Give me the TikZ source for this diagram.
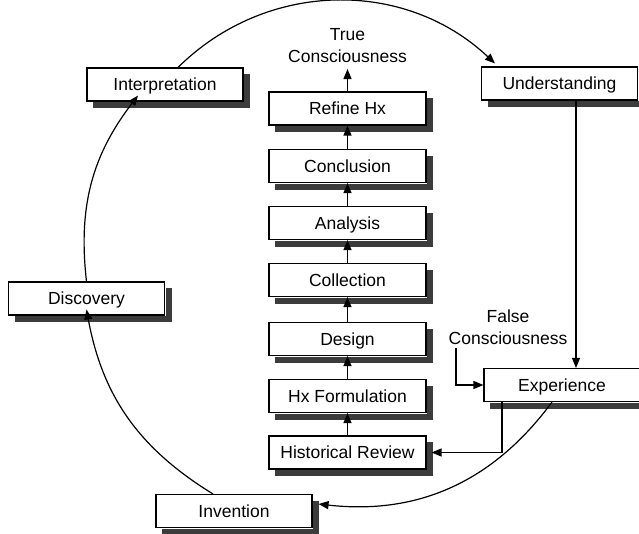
\documentclass[tikz,border=0pt]{standalone}
\usepackage{fontspec}
\setmainfont{Liberation Sans}
\usetikzlibrary{arrows.meta}
\definecolor{shadowgray}{RGB}{60,60,60}
\begin{document}
\begin{tikzpicture}[x=1pt,y=-1pt,
  box/.style={draw, line width=1.1pt, fill=white, minimum width=156pt, minimum height=33pt,
    inner sep=0pt, text height=12.5pt, text depth=0pt, font=\fontsize{17.5}{21}\selectfont},
  colbox/.style={box, minimum width=157pt},
  shadowc/.style={draw=shadowgray, line width=6pt},
  lbl/.style={align=center, font=\fontsize{17.5}{22}\selectfont, inner sep=0pt, anchor=north},
  arr/.style={line width=1.2pt, -{Triangle[length=10pt,width=8pt]}},
]
\useasboundingbox (0,0) rectangle (639,533);

% outer cycle boxes
\node[box] (interp) at (165,84.5) {Interpretation};
\node[box] (und) at (559.5,83.5) {Understanding};
\node[box] (disc) at (86.5,298.5) {Discovery};
\node[box] (inv) at (234,511) {Invention};
\node[box] (exp) at (562,385) {Experience};

% central column
\node[colbox] (refine) at (347.5,108.5) {Refine Hx};
\node[colbox] (concl) at (347.5,166) {Conclusion};
\node[colbox] (anal) at (347.5,223) {Analysis};
\node[colbox] (coll) at (347.5,280) {Collection};
\node[colbox] (design) at (347.5,339) {Design};
\node[colbox] (hxf) at (347.5,396) {Hx Formulation};
\node[colbox] (hist) at (347.5,452.5) {Historical Review};

% shadows: thick strokes along the right and bottom edges
\foreach \n in {interp,und,disc,inv,exp,refine,concl,anal,coll,design,hxf,hist}
  \draw[shadowc] ([shift={(3.5pt,-7pt)}]\n.north east) -- ([shift={(3.5pt,-3.5pt)}]\n.south east)
     -- ([shift={(7pt,-3.5pt)}]\n.south west);

% labels
\node[lbl] (truec) at (347.5,28.3) {True\\Consciousness};
\node[lbl] (falsec) at (508,310) {False\\Consciousness};

% helper coordinates
\coordinate (truetip) at (347.5,69);
\coordinate (fstart) at (456,348);
\coordinate (ux) at (576,0);
\coordinate (ex) at (502,0);

% column arrows
\draw[arr] (hist.north) -- (hxf.south);
\draw[arr] (hxf.north) -- (design.south);
\draw[arr] (design.north) -- (coll.south);
\draw[arr] (coll.north) -- (anal.south);
\draw[arr] (anal.north) -- (concl.south);
\draw[arr] (concl.north) -- (refine.south);
\draw[arr] (refine.north) -- (truetip);

% right side
\draw[arr] (und.south -| ux) -- (exp.north -| ux);
\draw[arr] (fstart) |- (exp.west);
\draw[arr] (exp.south -| ex) |- ([xshift=5pt]hist.east);

% outer cycle arcs
\draw[arr] ([xshift=13pt]interp.north) to[bend left=44] ([xshift=14pt,yshift=3pt]und.north west);
\draw[arr] ([xshift=-10pt]exp.south) to[bend left=30] ([xshift=6pt,yshift=7pt]inv.east);
\draw[arr] ([xshift=-21pt]inv.north) to[bend left=24] ([yshift=6pt]disc.south);
\draw[arr] (disc.north) to[bend left=22] ([xshift=-27pt,yshift=6pt]interp.south);
\end{tikzpicture}
\end{document}
